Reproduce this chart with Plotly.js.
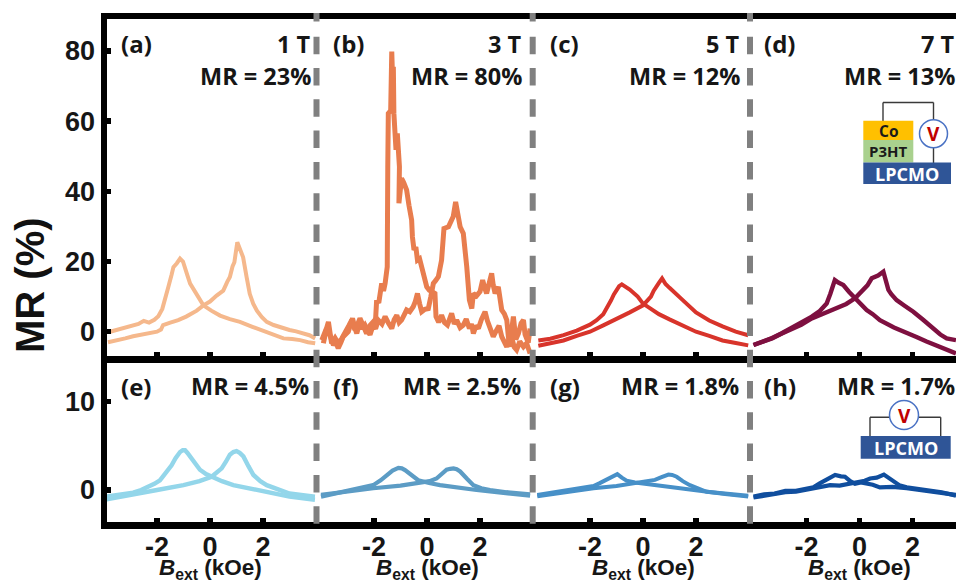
<!DOCTYPE html>
<html><head><meta charset="utf-8">
<script src="https://cdn.plot.ly/plotly-3.0.1.min.js"></script>
<style>html,body{margin:0;padding:0;background:#fff;overflow:hidden}#chart{width:956px;height:584px}</style>
</head><body><div id="chart"></div>
<script>
// ---------- data: two field sweeps per panel ----------
const aUpX=[-3.85,-3.5,-3.2,-2.9,-2.6,-2.3,-2.0,-1.85,-1.77,-1.5,-1.2,-0.9,-0.7,-0.5,-0.25,0,0.25,0.5,0.65,0.75,0.85,0.92,1.03,1.12,1.25,1.38,1.5,1.63,1.77,1.95,2.14,2.4,2.7,3,3.25,3.5,3.75,3.97];
const aUpY=[-3,-2.5,-1.9,-1.3,-0.8,-0.5,0,0.6,1.9,2.6,3.3,4.3,5.2,6,7.5,8.6,10.3,11.7,14.2,15.6,18.6,19.8,25.5,24,21.2,15.6,10.8,8,6,4.2,2.8,1.9,1.1,0.5,0.1,-0.5,-1,-1.9];
const aDownX=[-3.77,-3.4,-3.1,-2.9,-2.7,-2.5,-2.3,-2.1,-1.95,-1.8,-1.68,-1.57,-1.45,-1.38,-1.25,-1.13,-1.02,-0.94,-0.85,-0.75,-0.62,-0.5,-0.25,0.05,0.38,0.75,1.13,1.6,2.14,2.5,2.77,3.1,3.4,3.7,3.97];
const aDownY=[0,0.7,1.4,1.9,2.2,3.1,2.6,3.4,4.4,6.5,9.4,12.8,16.2,18.4,19.5,20.8,20,18.4,16,13.7,12,10.3,7.5,6,4.6,3.6,2.8,1.4,0,-0.9,-1.9,-2.1,-2.4,-3,-3.3];

const bDownX=[-3.91,-3.85,-3.79,-3.72,-3.66,-3.53,-3.45,-3.35,-3.25,-3.16,-2.97,-2.88,-2.81,-2.72,-2.65,-2.53,-2.44,-2.34,-2.25,-2.15,-2.05,-1.96,-1.90,-1.82,-1.71,-1.64,-1.58,-1.50,-1.48,-1.46,-1.37,-1.35,-1.33,-1.29,-1.27,-1.25,-1.17,-1.12,-1.08,-1.04,-1.06,-0.96,-0.88,-0.77,-0.68,-0.58,-0.55,-0.49,-0.42,-0.36,-0.28,-0.20,-0.1,-0.01,0.09,0.18,0.30,0.34,0.44,0.55,0.66,0.77,0.85,0.93,1.03,1.12,1.25,1.37,1.48,1.60,1.68,1.75,1.85,1.94,2.06,2.19,2.28,2.38,2.5,2.63,2.72,2.82,2.92,3.01,3.10,3.19,3.29,3.38,3.50,3.64,3.76,3.89];
const bDownY=[-3.3,-1.2,0.9,0.2,-1.4,-3.8,-2.9,-4.7,-3.1,-1.4,0,2.4,3.8,1,-0.5,2.8,0.8,1.9,0.2,-0.9,1.5,0.9,9,8.2,13.8,11.6,13.8,18.5,47,62.2,63,72,79.8,70,75.5,62.2,51.8,56.5,52,47,36.6,43.7,42.5,40.4,36,31.8,27,23.3,24.1,20.4,20.8,18.5,15,12.8,11.8,11.4,10.9,4.3,2.7,4.7,2.6,1.9,3.8,5.2,2.2,3.3,1.2,1.9,3.6,0.9,2.2,-0.5,1.7,0.9,3.6,5.7,3.1,0.9,-1.4,0.5,1.7,-1.4,-3.2,-4.3,-2,-1.4,-4.4,-5.2,-2.8,-4.3,-3.3,-6.2];
const bUpX=[-3.97,-3.85,-3.78,-3.72,-3.66,-3.6,-3.47,-3.35,-3.22,-3.09,-2.95,-2.84,-2.72,-2.62,-2.53,-2.4,-2.28,-2.15,-2.03,-1.94,-1.84,-1.7,-1.58,-1.45,-1.33,-1.24,-1.14,-1.05,-0.96,-0.86,-0.77,-0.65,-0.52,-0.44,-0.36,-0.28,-0.20,-0.08,0.05,0.14,0.24,0.33,0.43,0.55,0.60,0.64,0.81,0.99,1.08,1.17,1.25,1.37,1.44,1.50,1.60,1.69,1.75,1.87,2.0,2.10,2.18,2.25,2.34,2.44,2.5,2.57,2.69,2.82,2.92,3.01,3.07,3.13,3.2,3.26,3.35,3.45,3.55,3.64,3.7,3.76,3.82,3.89];
const bUpY=[-2.4,-0.5,1.2,2.8,-0.4,-3.3,-1.8,-3.3,-2,-0.5,1.7,3.3,0.5,2.1,3.8,1.6,-0.5,1.8,2.8,0.8,3.3,2.2,4.3,2.4,0.9,3.4,4.7,2.6,3.3,4.8,6.2,5.7,7.1,8.6,10.9,8,5.7,6.4,6.6,9.8,13.8,14.6,15.7,20.4,26,29.4,29.9,32.8,37,32.4,29.9,28,23.4,18.5,9,6.6,10.9,10.2,11.4,14.7,12.4,10.9,13.6,16.6,13.2,10.9,12.8,6.2,5.1,3.3,-1.4,-4.3,0.8,4.3,-2.2,-0.5,2.4,3.3,-0.8,-1.6,-3.1,0.9];

const cDownX=[-3.95,-3.5,-3,-2.5,-2,-1.75,-1.5,-1.35,-1.2,-1.1,-1,-0.9,-0.8,-0.65,-0.5,-0.2,0,0.3,0.6,1,1.5,2,2.5,3,3.5,3.97];
const cDownY=[-2.5,-2,-1,0.3,2,3.3,5,6.8,9,10.6,12,13,13.5,12.7,12,10,8,6.5,5,3.5,1.8,0,-1.2,-2.5,-3.2,-3.9];
const cUpX=[-3.95,-3.5,-3,-2.5,-2,-1.5,-1,-0.5,0,0.15,0.3,0.4,0.5,0.6,0.72,0.85,1,1.25,1.5,2,2.5,3,3.5,3.97];
const cUpY=[-4,-3.4,-2.5,-1.2,0,1.8,3.5,5.5,7.5,8.6,10,11.6,13,13.9,15.2,13.6,12.5,10.6,9,5.5,3.2,1.5,0,-1];

const dDownX=[-4,-3.65,-3.3,-2.95,-2.62,-2.2,-1.8,-1.5,-1.24,-1.1,-1,-0.93,-0.8,-0.61,-0.4,-0.17,0.05,0.27,0.5,0.77,1.3,1.78,2.15,2.53,2.9,3.1,3.4,3.64];
const dDownY=[-3.8,-2.9,-1.8,-0.5,0.9,2.4,4.3,5.9,8,10.8,13,14.7,14,13.3,11.4,9.5,7.6,6.2,5,3.3,1.2,-0.5,-1.5,-2.8,-4,-4.7,-5.6,-6.2];
const dUpX=[-4,-3.65,-3.3,-2.95,-2.62,-2.2,-1.8,-1.4,-0.99,-0.5,-0.17,0,0.14,0.3,0.46,0.7,0.9,0.98,1.09,1.2,1.4,1.7,2.03,2.4,2.79,3.05,3.29,3.64];
const dUpY=[-3.8,-3,-1.9,-0.6,0.5,2,3.8,5,6.2,7.9,9.5,10.9,11.9,13.2,15.2,16,17.1,14.6,11.9,10.7,9,7.4,5.7,3.4,0.9,-0.8,-1.9,-2.4];

const eDownX=[-3.9,-3.4,-2.9,-2.6,-2.3,-2.1,-1.89,-1.7,-1.45,-1.3,-1.13,-1.03,-0.94,-0.85,-0.75,-0.55,-0.38,-0.15,0.06,0.45,0.88,2,3,3.96];
const eDownY=[-0.75,-0.55,-0.3,0,0.4,0.7,1.1,1.8,2.8,3.6,4.3,4.5,4.5,4.2,3.8,3,2.3,1.8,1.5,1,0.55,-0.2,-0.75,-1.1];
const eUpX=[-3.9,-2.9,-2,-1,-0.4,0.06,0.25,0.44,0.6,0.75,0.88,1,1.12,1.26,1.45,1.64,1.9,2.14,3,3.96];
const eUpY=[-1.05,-0.55,0,0.55,1,1.5,1.9,2.45,3.2,4,4.3,4.4,4.2,3.8,2.7,1.7,1,0.55,-0.4,-0.75];

const fDownX=[-4,-3,-2.03,-1.75,-1.52,-1.3,-1.08,-0.95,-0.83,-0.6,-0.33,0.08,0.49,1.87,3,3.89];
const fDownY=[-0.75,-0.1,0.55,1.1,1.7,2.2,2.5,2.45,2.25,1.7,1.1,0.8,0.55,0,-0.3,-0.65];
const fUpX=[-4,-3,-2.03,-1,-0.14,0.1,0.36,0.55,0.74,0.88,1,1.12,1.25,1.5,1.75,2.05,2.38,3,3.89];
const fUpY=[-0.55,-0.15,0.2,0.5,0.8,1,1.3,1.8,2.3,2.4,2.45,2.35,2.1,1.3,0.55,0.2,0,-0.25,-0.5];

const gDownX=[-3.99,-3,-1.87,-1.65,-1.43,-1.2,-0.97,-0.8,-0.62,-0.3,-0.05,0.77,1.5,2.28,3.1,3.97];
const gDownY=[-0.55,-0.1,0.45,0.75,1.1,1.45,1.8,1.4,1.05,0.85,0.75,0.4,0.1,-0.2,-0.45,-0.75];
const gUpX=[-3.99,-3,-1.87,-1,-0.49,-0.05,0.45,0.7,0.96,1.1,1.27,1.5,1.77,2.4,3.1,3.97];
const gUpY=[-0.7,-0.25,0.2,0.45,0.7,0.85,1.15,1.45,1.75,1.7,1.5,1,0.55,-0.2,-0.4,-0.65];

const hDownX=[-4,-3.6,-3.2,-2.8,-2.4,-2.05,-1.74,-1.5,-1.3,-1.1,-0.92,-0.7,-0.55,-0.35,-0.17,0.05,0.27,0.5,0.77,1.25,1.78,2.2,2.66,3.1,3.64];
const hDownY=[-0.75,-0.5,-0.4,-0.1,-0.1,0.15,0.3,0.75,1.1,1.5,1.7,1.55,1.5,1,0.7,0.85,0.75,0.6,0.3,0.35,0.2,0.05,-0.2,-0.3,-0.55];
const hUpX=[-4,-3.6,-3.2,-2.8,-2.4,-2.05,-1.74,-1.4,-1.11,-0.75,-0.36,-0.04,0.2,0.4,0.65,0.92,1.1,1.28,1.5,1.78,2.2,2.66,3.1,3.64];
const hUpY=[-0.85,-0.65,-0.55,-0.25,-0.2,0,0.1,0.4,0.55,0.5,0.75,0.95,1.05,1.3,1.4,1.75,1.35,0.95,0.55,0.3,0.1,-0.05,-0.25,-0.65];

const panelLabels=['(a)','(b)','(c)','(d)','(e)','(f)','(g)','(h)'];
const fieldLabels=['1 T','3 T','5 T','7 T'];
const mrLabels=['MR = 23%','MR = 80%','MR = 12%','MR = 13%','MR = 4.5%','MR = 2.5%','MR = 1.8%','MR = 1.7%'];
const panelColors=['#F5B88C','#E87D4E','#D8342B','#7E1040','#93D6EA','#5C9CC5','#4790C8','#104E9E'];
const lineWidths=[4,5,4,4.4,4.4,4.2,4,4.2];
const xTickVals=[-2,0,2];
const topYTicks=[0,20,40,60,80];
const bottomYTicks=[0,10];

// ---------- page geometry (pixels) ----------
const W=956,H=584;
const fx=p=>p/W, fy=p=>1-p/H;
const PX=26.5;
const edges=[107,316.5,533,750,956];
const centers=[210,427,643,859.5];
const font={family:'"Open Sans", Lato, sans-serif',color:'#161616'};
const arial='"Liberation Sans", Arial, sans-serif';

const sweeps=[[aDownX,aDownY,aUpX,aUpY],[bDownX,bDownY,bUpX,bUpY],[cDownX,cDownY,cUpX,cUpY],[dDownX,dDownY,dUpX,dUpY],
              [eDownX,eDownY,eUpX,eUpY],[fDownX,fDownY,fUpX,fUpY],[gDownX,gDownY,gUpX,gUpY],[hDownX,hDownY,hUpX,hUpY]];
const data=[];
sweeps.forEach((s,i)=>{
  const xa=i===0?'x':'x'+(i+1), ya=i<4?'y':'y2';
  [[s[0],s[1]],[s[2],s[3]]].forEach(([x,y])=>data.push({type:'scatter',mode:'lines',x,y,xaxis:xa,yaxis:ya,
    line:{color:panelColors[i],width:lineWidths[i],shape:'linear'},hoverinfo:'skip',showlegend:false}));
});

const layout={width:W,height:H,margin:{l:0,r:0,t:0,b:0},paper_bgcolor:'#fff',plot_bgcolor:'#fff',showlegend:false,
  annotations:[],shapes:[]};
const axisBase={showgrid:false,zeroline:false,showline:true,linecolor:'#000',linewidth:6.5,
  ticks:'inside',ticklen:4,tickwidth:5.5,tickcolor:'#000',fixedrange:true};
for(let i=0;i<8;i++){
  const c=i%4, top=i<4, key=i===0?'xaxis':'xaxis'+(i+1);
  layout[key]=Object.assign({},axisBase,{mirror:true,
    domain:[fx(edges[c]),fx(edges[c+1])],
    range:[(edges[c]-centers[c])/PX,(edges[c+1]-centers[c])/PX],
    anchor:top?'y':'y2',tickmode:'array',tickvals:xTickVals,ticktext:xTickVals.map(String),
    showticklabels:!top,tickfont:{family:arial,size:27,color:'#161616',weight:700},ticklabelstandoff:-5
  });
}
layout.yaxis=Object.assign({},axisBase,{domain:[fy(356),fy(19.3)],range:[(331.7-356)/3.51,(331.7-19.3)/3.51],anchor:'x',
  tickmode:'array',tickvals:topYTicks,ticktext:topYTicks.map(String),tickfont:{family:arial,size:27,color:'#161616',weight:700}});
layout.yaxis2=Object.assign({},axisBase,{domain:[fy(522),fy(362.7)],range:[(490-522)/8.83,(490-362.7)/8.83],anchor:'x5',
  tickmode:'array',tickvals:bottomYTicks,ticktext:bottomYTicks.map(String),tickfont:{family:arial,size:27,color:'#161616',weight:700}});

function note(text,px,py,size,anchor,extra){
  layout.annotations.push(Object.assign({text,xref:'paper',yref:'paper',x:fx(px),y:fy(py),xanchor:anchor,yanchor:'middle',
    showarrow:false,borderpad:0,font:Object.assign({},font,{size,weight:700})},extra||{}));
}
const labelLeft=[120,332,549,763], topRight=[311.5,523,741,956], botRight=[310,522,740,956];
for(let i=0;i<4;i++){
  note(panelLabels[i],labelLeft[i],44,24,'left');
  note(panelLabels[i+4],labelLeft[i],386,24,'left');
  note(fieldLabels[i],topRight[i],44,23.5,'right');
  note(mrLabels[i],topRight[i],76,23.5,'right');
  note(mrLabels[i+4],botRight[i],385.5,23.5,'right');
  layout.annotations.push({text:'<i>B</i><sub>ext</sub> (kOe)',xref:i===0?'x5':'x'+(i+5),yref:'paper',x:0,y:fy(569),
    xanchor:'center',yanchor:'middle',showarrow:false,font:{family:arial,size:22.5,color:'#161616',weight:700}});
}
note('MR (%)',30,285,40,'center',{textangle:-90,font:{family:arial,size:40,color:'#111',weight:700}});

// separators
[316.5,532.7,750].forEach(x=>{
  layout.shapes.push({type:'line',layer:'above',xref:'paper',yref:'paper',x0:fx(x),x1:fx(x),y0:fy(13),y1:fy(21.5),line:{color:'#808080',width:6}});
  layout.shapes.push({type:'line',layer:'above',xref:'paper',yref:'paper',x0:fx(x),x1:fx(x),y0:fy(36.7),y1:fy(528.5),line:{color:'#808080',width:6,dash:'17.5px,13.8px'}});
});

// device schematics
function rect(x0,y0,x1,y1,fill,line){layout.shapes.push({type:'rect',layer:'above',xref:'paper',yref:'paper',x0:fx(x0),x1:fx(x1),y0:fy(y0),y1:fy(y1),fillcolor:fill,line:{color:line||fill,width:line?1.5:0}});}
function wire(x0,y0,x1,y1){layout.shapes.push({type:'line',layer:'above',xref:'paper',yref:'paper',x0:fx(x0),x1:fx(x1),y0:fy(y0),y1:fy(y1),line:{color:'#3a3a3a',width:1.4}});}
function circle(cx,cy,r){layout.shapes.push({type:'circle',layer:'above',xref:'paper',yref:'paper',x0:fx(cx-r),x1:fx(cx+r),y0:fy(cy-r),y1:fy(cy+r),fillcolor:'#fff',line:{color:'#4A72C4',width:1.5}});}
wire(883,121,883,102.5);wire(883,102.5,933.5,102.5);wire(933.5,102.5,933.5,163);
rect(863.3,120.7,913.3,140,'#FFC000');rect(863.3,140,913.3,162.5,'#A9D18E');rect(863.3,162.5,951,184,'#2F5597');
circle(933.5,133.7,14);
wire(870,436,870,417.3);wire(870,417.3,940.7,417.3);wire(940.7,417.3,940.7,436);
rect(860.7,436,950.7,458.7,'#2F5597');circle(904,415,14.5);
function inset(text,px,py,size,color){note(text,px,py,size,'center',{font:{family:'"Open Sans", Lato, sans-serif',size,color,weight:700}});}
inset('Co',888.3,130.5,15.5,'#1a1a1a');inset('P3HT',888.3,151,15,'#1a1a1a');inset('LPCMO',907,173.5,18,'#fff');
inset('V',933.5,134,19,'#C00000');inset('LPCMO',905.5,447.5,18,'#fff');inset('V',904,415.5,19,'#C00000');

Plotly.newPlot('chart',data,layout,{displayModeBar:false,staticPlot:true});
</script></body></html>
